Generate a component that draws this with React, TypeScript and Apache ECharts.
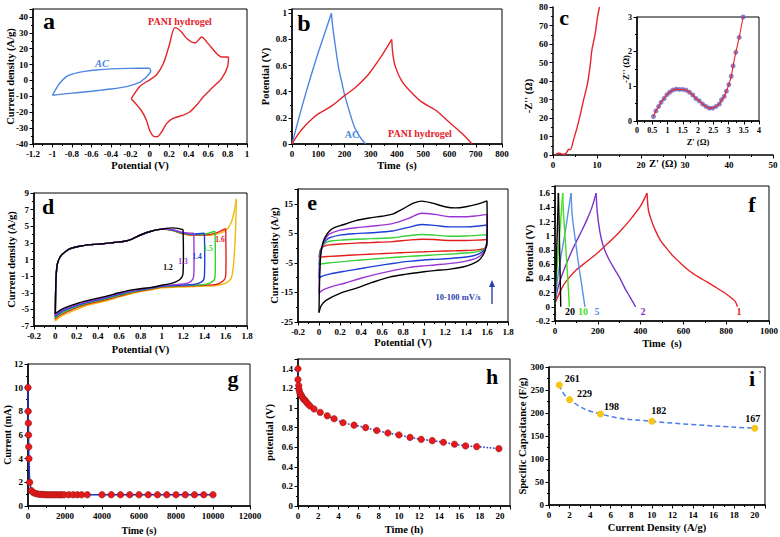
import React, { useEffect, useRef } from 'react';
import * as echarts from 'echarts';

const SERIF = '"Liberation Serif", "Times New Roman", serif';

// ---------- panel a (CV) ----------
const acUpper = [[-1, -9.3], [-0.97, -6], [-0.94, -2.9], [-0.9, 0], [-0.86, 2.3], [-0.8, 3.9], [-0.75, 4.8], [-0.65, 5.9], [-0.55, 6.6], [-0.4, 7.3], [-0.2, 7.6], [0, 7.7]];
const acLower = [[0, 7.7], [0.01, 6], [-0.01, 3.8], [-0.05, 1.3], [-0.1, -1.0], [-0.2, -3.2], [-0.3, -4.5], [-0.4, -5.4], [-0.5, -6.1], [-0.6, -6.8], [-0.7, -7.4], [-0.8, -8], [-0.9, -8.6], [-1, -9.3]];
const paniUpper = [[-0.19, -11.5], [-0.1, -3.6], [0, 0.4], [0.07, 3.6], [0.14, 10.7], [0.2, 22], [0.26, 33.3], [0.32, 31], [0.38, 26.4], [0.465, 23.6], [0.534, 27.4], [0.6, 23.2], [0.687, 17], [0.74, 14.8], [0.81, 14.8]];
const paniLower = [[0.81, 14.8], [0.8, 8.6], [0.74, 1.3], [0.654, -4], [0.55, -10.3], [0.483, -15.5], [0.414, -19.7], [0.345, -21.8], [0.24, -23.9], [0.175, -27], [0.123, -32.3], [0.078, -35.4], [0.04, -35.2], [0, -31.5], [-0.035, -24.9], [-0.09, -18.6], [-0.19, -11.5]];

// ---------- panel b (GCD) ----------
const bAcCharge = [[0, 0], [25, 0.19], [50, 0.37], [75, 0.54], [100, 0.7], [125, 0.85], [150, 1.0]];
const bAcDischarge = [[150, 1.0], [155, 0.9], [165, 0.75], [177, 0.59], [190, 0.47], [200, 0.38], [220, 0.24], [240, 0.12], [260, 0.05], [280, 0]];
const bPaniCharge = [[0, 0], [25, 0.08], [50, 0.14], [75, 0.19], [100, 0.23], [150, 0.29], [200, 0.37], [240, 0.43], [290, 0.53], [340, 0.67], [380, 0.8]];
const bPaniDischarge = [[380, 0.8], [384, 0.69], [394, 0.59], [419, 0.48], [457, 0.39], [495, 0.32], [546, 0.26], [597, 0.17], [648, 0.08], [686, 0]];

// ---------- panel c (Nyquist) ----------
const cInsetPts = [[0.54, 0.13], [0.62, 0.29], [0.71, 0.42], [0.79, 0.54], [0.89, 0.65], [0.98, 0.76], [1.07, 0.83], [1.17, 0.89], [1.28, 0.92], [1.39, 0.91], [1.5, 0.91], [1.61, 0.89], [1.72, 0.83], [1.83, 0.75], [1.93, 0.65], [2.04, 0.58], [2.15, 0.49], [2.26, 0.42], [2.37, 0.37], [2.48, 0.37], [2.59, 0.42], [2.7, 0.49], [2.77, 0.61], [2.86, 0.71], [2.93, 0.86], [3.01, 1.05], [3.09, 1.29], [3.15, 1.59], [3.24, 1.98], [3.35, 2.41], [3.48, 3.0]];
const cTail = [[3.93, 2.9], [4.68, 8.3], [5.44, 14.5], [6.19, 21.7], [6.95, 29.8], [7.85, 38.7], [8.46, 48.6], [8.84, 56.7], [9.59, 65.6], [10.12, 74.6], [10.57, 80]];

// ---------- panel d (CV windows) ----------
const dUpX = [0, 0.003, 0.008, 0.02, 0.05, 0.1, 0.15, 0.25, 0.35, 0.45, 0.55, 0.65, 0.72, 0.8, 0.9, 1.0];
const dUpY = [-5.5, -3, -1, 0.5, 1.4, 2.0, 2.35, 2.65, 2.8, 2.9, 3.05, 3.2, 3.45, 3.95, 4.4, 4.65];
const dTail12 = [[1.1, 4.8], [1.15, 4.75], [1.2, 4.6]];
const dTail13 = [[1.1, 4.6], [1.2, 4.25], [1.3, 4.15]];
const dTail14 = [[1.1, 4.55], [1.2, 4.2], [1.3, 4.05], [1.4, 4.15]];
const dTail15 = [[1.1, 4.5], [1.2, 4.15], [1.3, 4.0], [1.4, 4.05], [1.5, 4.4]];
const dTail16 = [[1.1, 4.5], [1.2, 4.1], [1.3, 3.95], [1.4, 3.95], [1.5, 4.15], [1.6, 4.7]];
const dTail17 = [[1.1, 4.45], [1.2, 4.05], [1.3, 3.9], [1.4, 3.9], [1.5, 4.0], [1.6, 4.5], [1.65, 5.4], [1.68, 6.8], [1.7, 8.3]];
const dRight12 = [[1.2, 4.6], [1.203, 2], [1.2, -0.6], [1.19, -1.1], [1.16, -1.5], [1.1, -1.85]];
const dRight13 = [[1.3, 4.15], [1.303, 1.5], [1.3, -0.9], [1.29, -1.4], [1.26, -1.75], [1.2, -1.95], [1.1, -2.05]];
const dRight14 = [[1.4, 4.15], [1.403, 1.2], [1.4, -1.0], [1.39, -1.5], [1.35, -1.85], [1.3, -2.0], [1.2, -2.08], [1.1, -2.14]];
const dRight15 = [[1.5, 4.4], [1.503, 1], [1.5, -1.0], [1.49, -1.5], [1.45, -1.85], [1.4, -2.02], [1.3, -2.08], [1.2, -2.14], [1.1, -2.2]];
const dRight16 = [[1.6, 4.7], [1.603, 1], [1.6, -0.9], [1.59, -1.4], [1.55, -1.8], [1.5, -2.02], [1.4, -2.1], [1.3, -2.15], [1.2, -2.2], [1.1, -2.25]];
const dRight17 = [[1.7, 8.3], [1.695, 5.5], [1.685, 2.5], [1.67, 0], [1.65, -1.3], [1.6, -1.85], [1.55, -2.05], [1.5, -2.15], [1.4, -2.2], [1.3, -2.25], [1.2, -2.3], [1.1, -2.35]];
const dLowX = [1.0, 0.9, 0.75, 0.6, 0.5, 0.4, 0.3, 0.2, 0.1, 0.05, 0];
const dLow12 = [-2.1, -2.35, -2.6, -3.0, -3.35, -3.65, -3.95, -4.3, -4.75, -5.05, -5.5];
const dLow13 = [-2.15, -2.4, -2.68, -3.1, -3.45, -3.75, -4.05, -4.42, -4.9, -5.2, -5.7];
const dLow14 = [-2.2, -2.45, -2.75, -3.2, -3.55, -3.85, -4.15, -4.55, -5.05, -5.35, -5.85];
const dLow15 = [-2.25, -2.5, -2.82, -3.3, -3.65, -3.95, -4.25, -4.68, -5.2, -5.5, -6.0];
const dLow16 = [-2.3, -2.55, -2.9, -3.4, -3.75, -4.05, -4.35, -4.8, -5.35, -5.65, -6.15];
const dLow17 = [-2.4, -2.65, -3.0, -3.5, -3.9, -4.2, -4.5, -5.0, -5.55, -5.85, -6.4];

// ---------- panel e (CV scan rates) ----------
const eUp100 = [[0, -21.8], [0.005, -12], [0.015, -3], [0.035, 1.5], [0.06, 3.8], [0.1, 5.8], [0.15, 7.0], [0.23, 7.9], [0.35, 9.3], [0.5, 10.3], [0.6, 10.8], [0.7, 11.5], [0.8, 13.3], [0.9, 15.2], [0.98, 15.9], [1.08, 15.2], [1.2, 14], [1.3, 13.6], [1.4, 14], [1.5, 14.8], [1.6, 16]];
const eDn100 = [[1.6, 16], [1.602, 8], [1.598, 2], [1.585, -0.5], [1.56, -2.5], [1.52, -4.2], [1.45, -5.5], [1.37, -6.4], [1.25, -7.1], [1.1, -7.6], [1.0, -8.0], [0.83, -8.8], [0.67, -9.8], [0.5, -11.7], [0.35, -13.6], [0.2, -15.3], [0.07, -17.6], [0.02, -19.5], [0, -21.8]];
const eUp75 = [[0, -15.3], [0.005, -8], [0.015, -2], [0.04, 1.5], [0.07, 3.6], [0.1, 4.8], [0.2, 6.1], [0.35, 6.9], [0.5, 7.4], [0.7, 8.3], [0.85, 10], [0.98, 11.8], [1.1, 11.4], [1.25, 10.6], [1.4, 10.6], [1.5, 10.9], [1.6, 11.4]];
const eDn75 = [[1.6, 11.4], [1.602, 6], [1.597, 1.5], [1.58, -0.6], [1.55, -2.2], [1.5, -3.4], [1.4, -4.4], [1.3, -5], [1.1, -5.7], [1.0, -6.0], [0.85, -6.6], [0.7, -7.6], [0.55, -8.8], [0.4, -10.2], [0.25, -11.8], [0.1, -13.3], [0.03, -14.3], [0, -15.3]];
const eUp50 = [[0, -10.2], [0.005, -5], [0.015, -1], [0.04, 1.3], [0.07, 2.7], [0.1, 3.5], [0.2, 4.4], [0.35, 4.9], [0.5, 5.2], [0.7, 5.8], [0.85, 7.0], [0.98, 8.0], [1.1, 7.7], [1.25, 7.2], [1.4, 7.2], [1.5, 7.4], [1.6, 7.8]];
const eDn50 = [[1.6, 7.8], [1.602, 4], [1.595, 1], [1.575, -0.5], [1.54, -1.6], [1.48, -2.5], [1.38, -3.1], [1.25, -3.5], [1.1, -3.8], [1.0, -4.0], [0.85, -4.5], [0.7, -5.2], [0.55, -6.0], [0.4, -6.9], [0.25, -7.8], [0.1, -8.8], [0.03, -9.5], [0, -10.2]];
const eUp25 = [[0, -5.7], [0.005, -3], [0.015, -0.6], [0.04, 1.0], [0.07, 1.9], [0.1, 2.3], [0.2, 2.7], [0.35, 3.0], [0.5, 3.2], [0.7, 3.5], [0.85, 4.2], [0.98, 4.6], [1.1, 4.4], [1.25, 4.0], [1.4, 4.1], [1.5, 4.3], [1.6, 4.5]];
const eDn25 = [[1.6, 4.5], [1.602, 2], [1.59, 0.4], [1.565, -0.5], [1.52, -1.1], [1.45, -1.5], [1.3, -1.9], [1.1, -2.3], [1.0, -2.5], [0.85, -2.8], [0.7, -3.2], [0.55, -3.6], [0.4, -4.0], [0.25, -4.5], [0.1, -5.0], [0.03, -5.3], [0, -5.7]];
const eUp10 = [[0, -3.1], [0.005, -1.8], [0.015, -0.4], [0.04, 0.5], [0.07, 0.9], [0.1, 1.1], [0.2, 1.4], [0.35, 1.7], [0.5, 1.9], [0.7, 2.2], [0.85, 2.7], [0.98, 3.0], [1.1, 2.9], [1.25, 2.6], [1.4, 2.6], [1.5, 2.7], [1.6, 2.9]];
const eDn10 = [[1.6, 2.9], [1.602, 1.5], [1.59, 0.3], [1.56, -0.3], [1.5, -0.6], [1.4, -0.8], [1.3, -0.9], [1.1, -1.1], [1.0, -1.25], [0.85, -1.45], [0.7, -1.7], [0.55, -1.95], [0.4, -2.2], [0.25, -2.5], [0.1, -2.8], [0.03, -2.95], [0, -3.1]];

// ---------- panel f (GCD current densities) ----------
const f1Charge = [[0, 0.05], [25, 0.22], [50, 0.35], [100, 0.52], [150, 0.64], [200, 0.76], [225, 0.83], [250, 0.9], [300, 1.05], [350, 1.22], [400, 1.42], [430, 1.6]];
const f1Discharge = [[430, 1.6], [436, 1.37], [450, 1.22], [467, 1.09], [490, 0.95], [514, 0.85], [550, 0.72], [592, 0.6], [630, 0.5], [670, 0.42], [710, 0.35], [748, 0.28], [800, 0.18], [841, 0.08], [853, 0]];
const f2Charge = [[0, 0.05], [10, 0.22], [25, 0.38], [50, 0.58], [75, 0.76], [100, 0.92], [125, 1.07], [150, 1.23], [175, 1.42], [192, 1.6]];
const f2Discharge = [[192, 1.6], [197, 1.35], [210, 1.05], [226, 0.85], [250, 0.68], [280, 0.52], [300, 0.42], [327, 0.26], [350, 0.14], [377, 0]];
const f5Charge = [[0, 0.05], [10, 0.35], [20, 0.55], [30, 0.75], [45, 1.0], [60, 1.3], [75, 1.6]];
const f5Discharge = [[75, 1.6], [80, 1.3], [90, 1.05], [100, 0.83], [110, 0.6], [120, 0.4], [130, 0.2], [140, 0]];
const f10Charge = [[0, 0.05], [5, 0.35], [10, 0.55], [20, 0.95], [30, 1.35], [36, 1.6]];
const f10Discharge = [[36, 1.6], [40, 1.3], [50, 0.85], [60, 0.38], [67, 0]];
const f20Charge = [[0, 0.05], [4, 0.4], [8, 0.8], [12, 1.2], [16, 1.6]];
const f20Discharge = [[16, 1.6], [20, 1.05], [24, 0.45], [27, 0]];

// ---------- panel g (current vs time) ----------
const gTime = [0, 10, 20, 30, 40, 50, 90, 180, 300, 430, 560, 690, 810, 940, 1070, 1190, 1320, 1440, 1570, 1700, 1820, 1950, 2200, 2440, 2670, 2900, 3200, 4000, 4500, 5000, 5500, 6000, 6500, 7000, 7500, 8000, 8500, 9000, 9500, 10000];
const gCurrent = [10, 8, 7, 6, 5, 4, 2, 1.3, 1.12, 1.05, 1.0, 0.98, 0.97, 0.96, 0.95, 0.95, 0.95, 0.95, 0.95, 0.95, 0.95, 0.95, 0.95, 0.95, 0.95, 0.95, 0.95, 0.95, 0.95, 0.95, 0.95, 0.95, 0.95, 0.95, 0.95, 0.95, 0.95, 0.95, 0.95, 0.95];

// ---------- panel h (self-discharge) ----------
const hTime = [0, 0, 0.07, 0.1, 0.17, 0.23, 0.33, 0.43, 0.56, 0.69, 0.83, 1.0, 1.19, 1.59, 2.2, 2.9, 3.57, 4.46, 5.55, 6.7, 7.8, 8.9, 10, 11.1, 12.2, 13.3, 14.4, 15.5, 16.6, 17.7, 19.9];
const hPotential = [1.4, 1.29, 1.23, 1.19, 1.16, 1.14, 1.13, 1.11, 1.09, 1.08, 1.06, 1.04, 1.02, 0.99, 0.955, 0.92, 0.89, 0.85, 0.825, 0.8, 0.77, 0.745, 0.725, 0.7, 0.68, 0.667, 0.65, 0.63, 0.613, 0.606, 0.585];

// ---------- panel i (rate capability) ----------
const iDensity = [1, 2, 5, 10, 20];
const iCapacitance = [261, 229, 198, 182, 167];
const iLabelShift = [[13, 2.5], [15, 2.8], [11, 0.6], [7, -1.8], [-2, -0.7]];

const zip = (xs: number[], ys: number[]) => xs.map((x, k) => [x, ys[k]]);
const fmt = (v: number) => String(Math.round(v * 1e6) / 1e6);

type Ax = { min: number; max: number; interval: number; name: string; gap: number; hideMax?: boolean; fs?: number; nfs?: number };
type Panel = { rect: [number, number, number, number]; border: boolean; x: Ax; y: Ax };

const panels: Panel[] = [
  { rect: [33, 9, 214, 135], border: true, x: { min: -1.2, max: 1, interval: 0.2, name: 'Potential (V)', gap: 16 }, y: { min: -40, max: 45, interval: 10, name: 'Current density (A/g)', gap: 17, hideMax: true } },
  { rect: [292, 9, 210, 135], border: true, x: { min: 0, max: 800, interval: 100, name: 'Time  (s)', gap: 16 }, y: { min: 0, max: 1.033, interval: 0.2, name: 'Potential (V)', gap: 21, hideMax: true } },
  { rect: [553, 7, 220, 148], border: false, x: { min: 0, max: 50, interval: 10, name: "Z' (Ω)", gap: 3 }, y: { min: 0, max: 80, interval: 10, name: '', gap: 19 } },
  { rect: [637, 17, 122, 104], border: true, x: { min: 0, max: 4, interval: 0.5, name: "Z' (Ω)", gap: 16, fs: 8, nfs: 8.5 }, y: { min: 0, max: 3, interval: 1, name: "-Z'' (Ω)", gap: 7, fs: 8, nfs: 8.5 } },
  { rect: [34, 193, 213, 133], border: true, x: { min: -0.2, max: 1.8, interval: 0.2, name: 'Potential (V)', gap: 18 }, y: { min: -7, max: 9, interval: 2, name: 'Current density (A/g)', gap: 17 } },
  { rect: [298, 189, 210, 133], border: true, x: { min: -0.2, max: 1.8, interval: 0.2, name: 'Potential (V)', gap: 15 }, y: { min: -25, max: 20, interval: 10, name: 'Current density (A/g)', gap: 18, hideMax: true } },
  { rect: [555, 186, 214, 135], border: true, x: { min: 0, max: 1000, interval: 200, name: 'Time  (s)', gap: 17 }, y: { min: -0.2, max: 1.7, interval: 0.2, name: 'Potential (V)', gap: 20, hideMax: true } },
  { rect: [28, 364, 222, 142], border: true, x: { min: 0, max: 12000, interval: 2000, name: 'Time (s)', gap: 19, nfs: 10 }, y: { min: 0, max: 12, interval: 2, name: 'Current (mA)', gap: 16, nfs: 10 } },
  { rect: [298, 359, 212, 147], border: true, x: { min: 0, max: 21, interval: 2, name: 'Time (h)', gap: 18, hideMax: true }, y: { min: 0, max: 1.5, interval: 0.2, name: 'potential (V)', gap: 23, hideMax: true } },
  { rect: [549, 367, 216, 138], border: true, x: { min: 0, max: 21, interval: 2, name: 'Current Density (A/g)', gap: 17, hideMax: true }, y: { min: 0, max: 300, interval: 50, name: 'Specific Capacitance (F/g)', gap: 21 } },
];

function axis(a: Ax, i: number) {
  return {
    type: 'value', gridIndex: i, min: a.min, max: a.max, interval: a.interval,
    name: a.name, nameLocation: 'middle', nameGap: a.gap, nameMoveOverlap: false,
    nameTextStyle: { color: '#000', fontFamily: SERIF, fontWeight: 'bold', fontSize: a.nfs ?? 10.5 },
    axisLine: { show: true, onZero: false, lineStyle: { color: '#000', width: 1.5 } },
    axisTick: { show: true, inside: false, length: 3.5, lineStyle: { color: '#000', width: 1 } },
    minorTick: { show: true, splitNumber: 2, length: 2, lineStyle: { color: '#000', width: 1 } },
    splitLine: { show: false }, minorSplitLine: { show: false },
    axisLabel: { color: '#000', fontFamily: SERIF, fontWeight: 'bold', fontSize: a.fs ?? 9, margin: 5, showMinLabel: true, showMaxLabel: !a.hideMax, hideOverlap: false, formatter: fmt },
  };
}

function ln(idx: number, data: number[][], color: string, extra: any = {}) {
  return {
    type: 'line', xAxisIndex: idx, yAxisIndex: idx, data, symbol: 'none', showSymbol: false,
    smooth: 0.3, clip: true, silent: true, z: 3,
    lineStyle: { color, width: 1.4 }, itemStyle: { color }, ...extra,
  };
}

function txt(text: string, x: number, y: number, fill: string, size: number, extra: any = {}) {
  return {
    type: 'text', x, y, silent: true, z: 10, rotation: extra.rotation ?? 0,
    style: { text, fill, fontSize: size, fontWeight: 'bold', fontFamily: SERIF, fontStyle: extra.italic ? 'italic' : 'normal', align: 'center', verticalAlign: 'middle', textAlign: 'center', textVerticalAlign: 'middle' },
  };
}

const RED = '#e5232b';
const ACBLUE = '#4d86e0';

export default function App() {
  const ref = useRef<HTMLDivElement>(null);
  useEffect(() => {
    if (!ref.current) return;
    const chart = echarts.init(ref.current, undefined, { renderer: 'svg' });
    const series: any[] = [];
    // a
    series.push(ln(0, acUpper, ACBLUE), ln(0, acLower, ACBLUE), ln(0, paniUpper, RED), ln(0, paniLower, RED));
    // b
    series.push(ln(1, bAcCharge, ACBLUE), ln(1, bAcDischarge, ACBLUE), ln(1, bPaniCharge, RED), ln(1, bPaniDischarge, RED));
    // c
    series.push(ln(2, [...cInsetPts, ...cTail], RED));
    series.push({ type: 'scatter', xAxisIndex: 3, yAxisIndex: 3, data: cInsetPts, symbolSize: 5, silent: true, z: 2, itemStyle: { color: '#6d64bd' } });
    series.push(ln(3, cInsetPts, RED, { lineStyle: { color: RED, width: 1.1 }, z: 4 }));
    // d
    const dCurves: [number[][], number[][], number[], string][] = [
      [dTail17, dRight17, dLow17, '#f2b90c'],
      [dTail16, dRight16, dLow16, '#e5211d'],
      [dTail15, dRight15, dLow15, '#2ed12e'],
      [dTail14, dRight14, dLow14, '#1e3ce6'],
      [dTail13, dRight13, dLow13, '#9a3ad6'],
      [dTail12, dRight12, dLow12, '#000000'],
    ];
    dCurves.forEach(([tail, right, low, col]) => {
      const up = [[0, low[low.length - 1]], ...zip(dUpX.slice(1), dUpY.slice(1)), ...tail];
      series.push(ln(4, up, col), ln(4, [...right, ...zip(dLowX, low)], col));
    });
    // e
    const eCurves: [number[][], number[][], string][] = [
      [eUp10, eDn10, '#e0201c'], [eUp25, eDn25, '#36d136'], [eUp50, eDn50, '#1f3fd6'], [eUp75, eDn75, '#9b35d6'], [eUp100, eDn100, '#000000'],
    ];
    eCurves.forEach(([u, d, col]) => series.push(ln(5, u, col), ln(5, d, col)));
    // f
    const fCurves: [number[][], number[][], string][] = [
      [f1Charge, f1Discharge, '#e5232b'], [f2Charge, f2Discharge, '#7a35c8'], [f5Charge, f5Discharge, '#5b90e6'], [f10Charge, f10Discharge, '#45e01f'], [f20Charge, f20Discharge, '#000000'],
    ];
    fCurves.forEach(([c, d, col]) => series.push(ln(6, c, col, { smooth: 0.2 }), ln(6, d, col, { smooth: 0.2 })));
    // g
    series.push({
      type: 'line', xAxisIndex: 7, yAxisIndex: 7, data: zip(gTime, gCurrent), symbol: 'circle', symbolSize: 6.5, showSymbol: true,
      silent: true, z: 3, lineStyle: { color: '#1f33c4', width: 1.5 }, itemStyle: { color: '#e8191b', borderColor: '#8a1414', borderWidth: 0.6 },
    });
    // h
    series.push({
      type: 'line', xAxisIndex: 8, yAxisIndex: 8, data: zip(hTime, hPotential), symbol: 'circle', symbolSize: 6.5, showSymbol: true, smooth: 0.3,
      silent: true, z: 3, lineStyle: { color: '#3344cc', width: 1.6, type: 'dotted' }, itemStyle: { color: '#e8191b', borderColor: '#8a1414', borderWidth: 0.5 },
    });
    // i
    series.push({
      type: 'line', xAxisIndex: 9, yAxisIndex: 9, smooth: true, symbol: 'circle', symbolSize: 7, showSymbol: true, silent: true, z: 3,
      data: iDensity.map((x, k) => ({ value: [x, iCapacitance[k]], label: { offset: iLabelShift[k] } })),
      lineStyle: { color: '#4a7fe6', width: 1.5, type: [5, 3] }, itemStyle: { color: '#f5c518' },
      label: { show: true, position: 'top', distance: 0, color: '#000', fontFamily: SERIF, fontWeight: 'bold', fontSize: 10, formatter: (p: any) => String(p.value[1]) },
    });

    const graphics: any[] = [
      txt('a', 49, 21, '#000', 24), txt('PANI hydrogel', 180, 21, RED, 10), txt('AC', 102, 63, ACBLUE, 10.5, { italic: true }),
      txt('b', 304, 23, '#000', 24), txt('AC', 352, 134, ACBLUE, 10), txt('PANI hydrogel', 420, 133, RED, 10),
      txt('c', 564, 17, '#000', 22),
      txt("-Z'' (Ω)", 528, 96, '#000', 10.5, { rotation: Math.PI / 2 }),
      txt('d', 48, 206, '#000', 22),
      txt('1.2', 168, 267, '#000', 7.5), txt('1.3', 183, 261, '#9a3ad6', 7.5), txt('1.4', 197, 256, '#1e3ce6', 7.5), txt('1.5', 208, 248, '#2ed12e', 7.5), txt('1.6', 220, 239, '#e5211d', 7.5),
      txt('e', 312, 202, '#000', 22),
      txt('10-100 mV/s', 458, 297, '#2a3fb0', 8.5),
      { type: 'line', silent: true, z: 10, shape: { x1: 492, y1: 304, x2: 492, y2: 285 }, style: { stroke: '#2a3fb0', lineWidth: 1.4 } },
      { type: 'polygon', silent: true, z: 10, shape: { points: [[489, 287], [492, 280], [495, 287]] }, style: { fill: '#2a3fb0' } },
      txt('f', 752, 204, '#000', 22),
      txt('20', 570, 311, '#000', 10), txt('10', 583, 311, '#45e01f', 10), txt('5', 597, 311, '#5b90e6', 10), txt('2', 643, 311, '#7a35c8', 10), txt('1', 739, 311, '#e5232b', 10),
      txt('g', 233, 378, '#000', 22),
      txt('h', 492, 376, '#000', 22),
      txt('i', 752, 378, '#000', 22), txt("'", 760, 374, '#000', 9),
    ];

    chart.setOption({
      animation: false,
      backgroundColor: '#ffffff',
      grid: panels.map((p) => ({
        left: p.rect[0], top: p.rect[1], width: p.rect[2], height: p.rect[3],
        show: p.border, borderColor: '#000', borderWidth: 1, backgroundColor: 'transparent', containLabel: false, outerBoundsMode: 'none',
      })),
      xAxis: panels.map((p, i) => axis(p.x, i)),
      yAxis: panels.map((p, i) => axis(p.y, i)),
      series,
      graphic: { elements: graphics },
    });
    return () => chart.dispose();
  }, []);
  return <div ref={ref} style={{ position: 'fixed', left: 0, top: 0, width: 780, height: 537, background: '#fff' }} />;
}
